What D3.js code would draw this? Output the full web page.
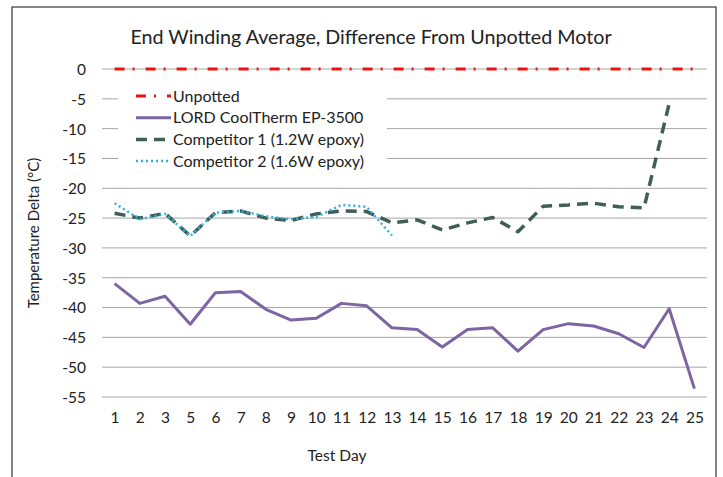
<!DOCTYPE html>
<html>
<head>
<meta charset="utf-8">
<script src="https://cdn.jsdelivr.net/npm/d3@7"></script>
<style>
  body { margin: 0; background: #fff; }
  svg text { font-family: Lato, "Open Sans", sans-serif; fill: #222; }
</style>
</head>
<body>
<svg width="723" height="477"></svg>
<script>
'use strict';

var days = ['1', '2', '3', '5', '6', '7', '8', '9', '10', '11', '12', '13',
    '14', '15', '16', '17', '18', '19', '20', '21', '22', '23', '24', '25'];

var unpotted = [0, 0, 0, 0, 0, 0, 0, 0, 0, 0, 0, 0,
    0, 0, 0, 0, 0, 0, 0, 0, 0, 0, 0, 0];

var lordEP3500 = [-36.0, -39.3, -38.1, -42.8, -37.5, -37.3, -40.3, -42.1, -41.8, -39.3, -39.7, -43.4,
    -43.7, -46.6, -43.7, -43.4, -47.3, -43.7, -42.7, -43.1, -44.4, -46.7, -40.2, -53.6];

var competitor1 = [-24.2, -25.0, -24.2, -28.0, -24.1, -23.8, -25.0, -25.4, -24.3, -23.8, -23.9, -25.8,
    -25.3, -27.0, -25.8, -24.9, -27.3, -23.0, -22.8, -22.5, -23.1, -23.3, -5.8, null];

var competitor2 = [-22.5, -25.2, -24.3, -28.0, -24.1, -23.8, -24.7, -25.2, -24.8, -22.8, -23.1, -27.9,
    null, null, null, null, null, null, null, null, null, null, null, null];

var yTicks = [0, -5, -10, -15, -20, -25, -30, -35, -40, -45, -50, -55];

var series = [
    { name: 'Unpotted', values: unpotted, color: '#ee1111', width: 2.8, dash: '10,8,2,11' },
    { name: 'LORD CoolTherm EP-3500', values: lordEP3500, color: '#7d64a3', width: 3, dash: null },
    { name: 'Competitor 1 (1.2W epoxy)', values: competitor1, color: '#3f5e57', width: 3.5, dash: '11,7' },
    { name: 'Competitor 2 (1.6W epoxy)', values: competitor2, color: '#2fb2da', width: 2.5, dash: '2,3' }
];

var svg = d3.select('svg');

// outer frame
svg.append('rect')
    .attr('x', 12).attr('y', 7)
    .attr('width', 704).attr('height', 480)
    .attr('fill', 'none')
    .attr('stroke', '#444')
    .attr('stroke-width', 1.3);

var plot = { left: 102, right: 707, top: 69, bottom: 397 };

var x = d3.scalePoint()
    .domain(days)
    .range([plot.left, plot.right])
    .padding(0.5);

var y = d3.scaleLinear()
    .domain([-55, 0])
    .range([plot.bottom, plot.top]);

// gridlines
svg.append('g')
    .selectAll('line')
    .data(yTicks)
    .enter()
    .append('line')
    .attr('x1', plot.left)
    .attr('x2', plot.right)
    .attr('y1', function(d) { return y(d); })
    .attr('y2', function(d) { return y(d); })
    .attr('stroke', '#a6a6a6')
    .attr('stroke-width', 1);

var axisY = d3.axisLeft(y)
    .tickValues(yTicks)
    .tickFormat(function(d) { return String(d); })
    .tickSize(0)
    .tickPadding(16);

var gy = svg.append('g')
    .attr('transform', 'translate(' + plot.left + ',0)')
    .call(axisY);
gy.select('.domain').remove();
gy.selectAll('text')
    .style('font-size', '15.5px')
    .attr('dy', '0.35em');

var axisX = d3.axisBottom(x)
    .tickSize(0)
    .tickPadding(15);

var gx = svg.append('g')
    .attr('transform', 'translate(0,' + plot.bottom + ')')
    .call(axisX);
gx.select('.domain').remove();
gx.selectAll('text').style('font-size', '15.5px');

// series lines
var line = d3.line()
    .defined(function(d) { return d !== null; })
    .x(function(d, i) { return x(days[i]); })
    .y(function(d) { return y(d); });

series.forEach(function(s) {
    svg.append('path')
        .datum(s.values)
        .attr('fill', 'none')
        .attr('stroke', s.color)
        .attr('stroke-width', s.width)
        .attr('stroke-dasharray', s.dash)
        .attr('stroke-linejoin', 'round')
        .attr('d', line);
});

// legend
var legend = svg.append('g');
legend.append('rect')
    .attr('x', 118).attr('y', 84)
    .attr('width', 269).attr('height', 88)
    .attr('fill', '#fff');

var legendItem = legend.selectAll('g.item')
    .data(series)
    .enter()
    .append('g')
    .attr('class', 'item')
    .attr('transform', function(d, i) { return 'translate(136,' + (96 + i * 21.7) + ')'; });

legendItem.append('line')
    .attr('x1', 0).attr('x2', 35)
    .attr('y1', 0).attr('y2', 0)
    .attr('stroke', function(d) { return d.color; })
    .attr('stroke-width', function(d) { return d.width; })
    .attr('stroke-dasharray', function(d) { return d.dash; });

legendItem.append('text')
    .attr('x', 37)
    .attr('dy', '0.35em')
    .style('font-size', '16px')
    .text(function(d) { return d.name; });

// titles
svg.append('text')
    .attr('x', 371).attr('y', 44)
    .attr('text-anchor', 'middle')
    .style('font-size', '19.7px')
    .text('End Winding Average, Difference From Unpotted Motor');

svg.append('text')
    .attr('transform', 'translate(39,' + ((plot.top + plot.bottom) / 2) + ') rotate(-90)')
    .attr('text-anchor', 'middle')
    .style('font-size', '15px')
    .text('Temperature Delta (°C)');

svg.append('text')
    .attr('x', 337).attr('y', 461)
    .attr('text-anchor', 'middle')
    .style('font-size', '15.5px')
    .text('Test Day');
</script>
</body>
</html>
